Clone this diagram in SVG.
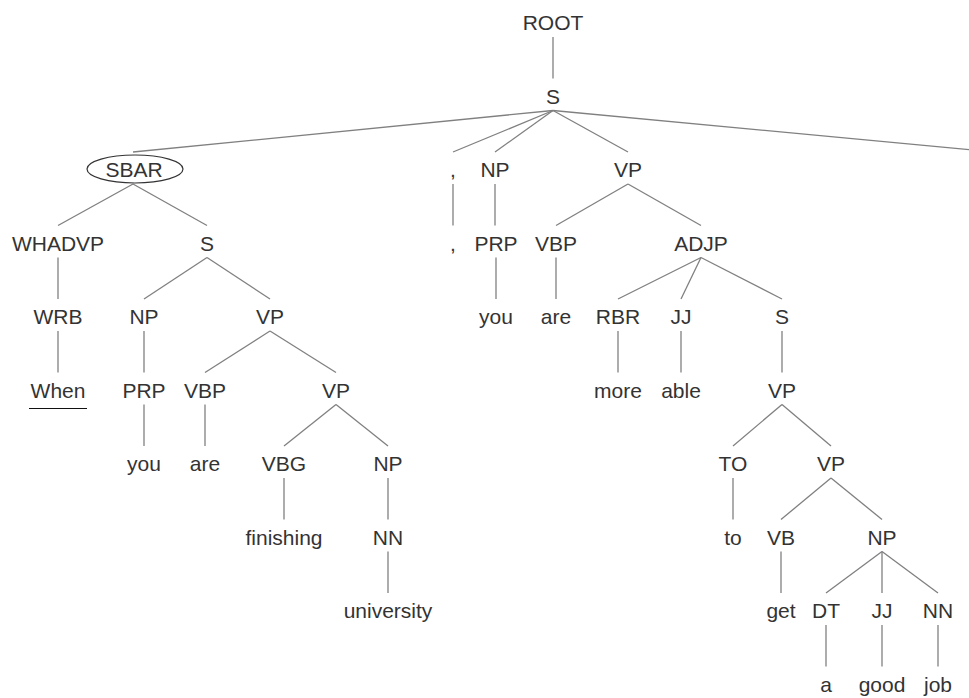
<svg xmlns="http://www.w3.org/2000/svg" width="969" height="698" viewBox="0 0 969 698">
<style>
text{font-family:"Liberation Sans",Arial,sans-serif;font-size:21px;fill:#333;text-anchor:middle}
.e line{stroke:#808080;stroke-width:1.3}
</style>
<rect width="969" height="698" fill="#fff"/>
<g class="e" id="connectors">
<line x1="553" y1="37" x2="553" y2="78.5"/>
<line x1="553" y1="110.5" x2="133" y2="152"/>
<line x1="553" y1="110.5" x2="453" y2="152"/>
<line x1="553" y1="110.5" x2="495" y2="152"/>
<line x1="553" y1="110.5" x2="628" y2="152"/>
<line x1="553" y1="110.5" x2="995" y2="152"/>
<line x1="133" y1="184" x2="58" y2="225.5"/>
<line x1="133" y1="184" x2="207" y2="225.5"/>
<line x1="453" y1="184" x2="453" y2="225.5"/>
<line x1="495" y1="184" x2="495" y2="225.5"/>
<line x1="628" y1="184" x2="556" y2="225.5"/>
<line x1="628" y1="184" x2="701" y2="225.5"/>
<line x1="58" y1="257.5" x2="58" y2="299"/>
<line x1="207" y1="257.5" x2="144" y2="299"/>
<line x1="207" y1="257.5" x2="270" y2="299"/>
<line x1="496" y1="257.5" x2="496" y2="299"/>
<line x1="556" y1="257.5" x2="556" y2="299"/>
<line x1="701" y1="257.5" x2="618" y2="299"/>
<line x1="701" y1="257.5" x2="681" y2="299"/>
<line x1="701" y1="257.5" x2="782" y2="299"/>
<line x1="58" y1="331" x2="58" y2="372.5"/>
<line x1="144" y1="331" x2="144" y2="372.5"/>
<line x1="270" y1="331" x2="205" y2="372.5"/>
<line x1="270" y1="331" x2="336" y2="372.5"/>
<line x1="618" y1="331" x2="618" y2="372.5"/>
<line x1="681" y1="331" x2="681" y2="372.5"/>
<line x1="782" y1="331" x2="782" y2="372.5"/>
<line x1="144" y1="404.5" x2="144" y2="446"/>
<line x1="205" y1="404.5" x2="205" y2="446"/>
<line x1="336" y1="404.5" x2="284" y2="446"/>
<line x1="336" y1="404.5" x2="388" y2="446"/>
<line x1="782" y1="404.5" x2="733" y2="446"/>
<line x1="782" y1="404.5" x2="831" y2="446"/>
<line x1="284" y1="478" x2="284" y2="519.5"/>
<line x1="388" y1="478" x2="388" y2="519.5"/>
<line x1="733" y1="478" x2="733" y2="519.5"/>
<line x1="831" y1="478" x2="781" y2="519.5"/>
<line x1="831" y1="478" x2="882" y2="519.5"/>
<line x1="388" y1="551.5" x2="388" y2="593"/>
<line x1="781" y1="551.5" x2="781" y2="593"/>
<line x1="882" y1="551.5" x2="826" y2="593"/>
<line x1="882" y1="551.5" x2="882" y2="593"/>
<line x1="882" y1="551.5" x2="938" y2="593"/>
<line x1="826" y1="625" x2="826" y2="666.5"/>
<line x1="882" y1="625" x2="882" y2="666.5"/>
<line x1="938" y1="625" x2="938" y2="666.5"/>
</g>
<g id="n-root"><text x="553" y="30">ROOT</text></g>
<g id="n-s1"><text x="553" y="103.5">S</text></g>
<g id="n-sbar"><ellipse cx="135" cy="169" rx="48" ry="14" fill="none" stroke="#333" stroke-width="1.2"/><text x="134" y="177">SBAR</text></g>
<g id="n-comma1"><text x="453" y="177">,</text></g>
<g id="n-np1"><text x="495" y="177">NP</text></g>
<g id="n-vp1"><text x="628" y="177">VP</text></g>
<g id="n-whadvp"><text x="58" y="250.5">WHADVP</text></g>
<g id="n-s2"><text x="207" y="250.5">S</text></g>
<g id="n-comma2"><text x="453" y="250.5">,</text></g>
<g id="n-prp1"><text x="496" y="250.5">PRP</text></g>
<g id="n-vbp1"><text x="556" y="250.5">VBP</text></g>
<g id="n-adjp"><text x="701" y="250.5">ADJP</text></g>
<g id="n-wrb"><text x="58" y="324">WRB</text></g>
<g id="n-np2"><text x="144" y="324">NP</text></g>
<g id="n-vp2"><text x="270" y="324">VP</text></g>
<g id="n-you1"><text x="496" y="324">you</text></g>
<g id="n-are1"><text x="556" y="324">are</text></g>
<g id="n-rbr"><text x="618" y="324">RBR</text></g>
<g id="n-jj1"><text x="681" y="324">JJ</text></g>
<g id="n-s3"><text x="782" y="324">S</text></g>
<g id="n-when"><text x="58" y="397.5">When</text><line x1="29" y1="408.5" x2="87" y2="408.5" stroke="#111" stroke-width="1.2"/></g>
<g id="n-prp2"><text x="144" y="397.5">PRP</text></g>
<g id="n-vbp2"><text x="205" y="397.5">VBP</text></g>
<g id="n-vp3"><text x="336" y="397.5">VP</text></g>
<g id="n-more"><text x="618" y="397.5">more</text></g>
<g id="n-able"><text x="681" y="397.5">able</text></g>
<g id="n-vp4"><text x="782" y="397.5">VP</text></g>
<g id="n-you2"><text x="144" y="471">you</text></g>
<g id="n-are2"><text x="205" y="471">are</text></g>
<g id="n-vbg"><text x="284" y="471">VBG</text></g>
<g id="n-np3"><text x="388" y="471">NP</text></g>
<g id="n-to1"><text x="733" y="471">TO</text></g>
<g id="n-vp5"><text x="831" y="471">VP</text></g>
<g id="n-finishing"><text x="284" y="544.5">finishing</text></g>
<g id="n-nn1"><text x="388" y="544.5">NN</text></g>
<g id="n-to2"><text x="733" y="544.5">to</text></g>
<g id="n-vb"><text x="781" y="544.5">VB</text></g>
<g id="n-np4"><text x="882" y="544.5">NP</text></g>
<g id="n-university"><text x="388" y="618">university</text></g>
<g id="n-get"><text x="781" y="618">get</text></g>
<g id="n-dt"><text x="826" y="618">DT</text></g>
<g id="n-jj2"><text x="882" y="618">JJ</text></g>
<g id="n-nn2"><text x="938" y="618">NN</text></g>
<g id="n-a"><text x="826" y="691.5">a</text></g>
<g id="n-good"><text x="882" y="691.5">good</text></g>
<g id="n-job"><text x="938" y="691.5">job</text></g>
</svg>
